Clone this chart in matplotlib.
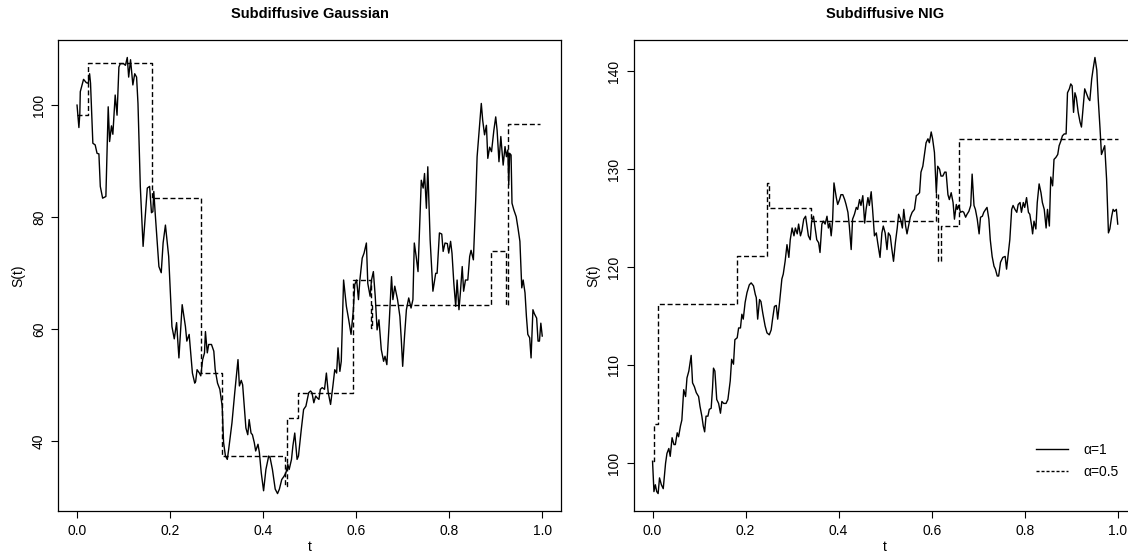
import matplotlib
matplotlib.use("Agg")
import matplotlib.pyplot as plt
from matplotlib.lines import Line2D

plt.rcParams['font.family'] = ['Liberation Sans', 'DejaVu Sans']

# Subdiffusive Gaussian, alpha = 1 (solid)
gauss_t = [0.000, 0.004, 0.006, 0.007, 0.014, 0.020, 0.024, 0.027, 0.029, 0.034,
           0.039, 0.043, 0.047, 0.050, 0.055, 0.062, 0.067, 0.070, 0.074, 0.077,
           0.082, 0.086, 0.090, 0.093, 0.100, 0.104, 0.108, 0.111, 0.115, 0.120,
           0.124, 0.128, 0.131, 0.136, 0.142, 0.147, 0.151, 0.156, 0.160, 0.163,
           0.165, 0.168, 0.176, 0.181, 0.185, 0.190, 0.197, 0.204, 0.209, 0.214,
           0.219, 0.226, 0.233, 0.236, 0.241, 0.248, 0.253, 0.255, 0.258, 0.263,
           0.266, 0.270, 0.274, 0.276, 0.280, 0.283, 0.289, 0.294, 0.297, 0.302,
           0.307, 0.312, 0.315, 0.319, 0.323, 0.326, 0.333, 0.339, 0.346, 0.349,
           0.353, 0.356, 0.360, 0.363, 0.367, 0.370, 0.374, 0.377, 0.381, 0.384,
           0.389, 0.392, 0.396, 0.401, 0.406, 0.412, 0.415, 0.420, 0.426, 0.431,
           0.435, 0.440, 0.445, 0.449, 0.453, 0.456, 0.461, 0.464, 0.468, 0.473,
           0.476, 0.482, 0.487, 0.492, 0.498, 0.502, 0.505, 0.509, 0.513, 0.516,
           0.520, 0.523, 0.527, 0.532, 0.536, 0.540, 0.545, 0.550, 0.554, 0.558,
           0.561, 0.565, 0.568, 0.573, 0.579, 0.584, 0.589, 0.594, 0.597, 0.601,
           0.605, 0.608, 0.613, 0.617, 0.622, 0.625, 0.630, 0.633, 0.637, 0.641,
           0.645, 0.649, 0.654, 0.659, 0.662, 0.666, 0.671, 0.676, 0.679, 0.683,
           0.689, 0.694, 0.697, 0.700, 0.704, 0.708, 0.713, 0.718, 0.722, 0.725,
           0.729, 0.733, 0.740, 0.744, 0.747, 0.751, 0.754, 0.759, 0.765, 0.771,
           0.774, 0.779, 0.784, 0.787, 0.791, 0.796, 0.799, 0.803, 0.806, 0.810,
           0.814, 0.817, 0.821, 0.824, 0.828, 0.831, 0.835, 0.840, 0.844, 0.847,
           0.852, 0.857, 0.860, 0.864, 0.869, 0.872, 0.876, 0.880, 0.883, 0.887,
           0.891, 0.896, 0.900, 0.903, 0.907, 0.911, 0.914, 0.916, 0.920, 0.923,
           0.926, 0.928, 0.930, 0.933, 0.935, 0.939, 0.944, 0.948, 0.952, 0.956,
           0.959, 0.963, 0.966, 0.969, 0.973, 0.976, 0.980, 0.983, 0.988, 0.991,
           0.994, 0.997, 1.000]
gauss_s = [100.0, 96.0, 98.5, 102.4, 104.6, 104.0, 103.9, 105.6, 103.9, 93.2,
           92.9, 91.4, 91.3, 85.5, 83.4, 83.7, 99.7, 93.5, 96.3, 94.8,
           101.8, 98.2, 106.8, 107.4, 107.4, 107.1, 108.5, 105.0, 108.1, 103.6,
           105.6, 105.0, 100.3, 85.5, 74.8, 80.7, 85.2, 85.5, 80.8, 81.0,
           84.6, 80.7, 71.2, 70.1, 75.4, 78.6, 73.0, 60.5, 58.3, 61.2,
           54.9, 64.4, 60.5, 57.9, 59.1, 52.2, 50.4, 50.7, 52.8, 52.2,
           51.7, 54.6, 55.8, 59.6, 55.8, 57.3, 57.3, 56.1, 52.8, 50.4,
           49.3, 46.3, 39.8, 37.4, 36.8, 38.6, 43.3, 48.7, 54.6, 49.9,
           50.9, 50.1, 45.7, 42.4, 41.2, 43.9, 41.5, 41.2, 39.8, 38.3,
           39.5, 38.0, 34.4, 31.2, 35.0, 37.4, 37.1, 35.0, 31.5, 30.7,
           31.5, 33.2, 33.8, 34.4, 35.9, 35.0, 36.8, 39.2, 41.5, 36.8,
           37.4, 42.1, 45.7, 46.3, 48.7, 49.0, 48.7, 46.9, 48.1, 47.8,
           47.5, 49.3, 49.6, 49.3, 52.2, 48.7, 46.6, 49.9, 52.8, 52.2,
           56.7, 52.5, 54.3, 68.8, 64.1, 61.7, 59.1, 63.5, 68.0, 68.8,
           65.3, 68.8, 72.7, 73.6, 75.4, 68.2, 65.9, 68.8, 70.3, 65.9,
           59.9, 61.7, 56.4, 54.3, 55.2, 53.7, 61.1, 69.4, 65.3, 67.7,
           65.3, 62.3, 58.2, 53.4, 58.8, 63.5, 65.6, 63.8, 65.3, 75.4,
           73.0, 70.3, 86.6, 85.2, 87.8, 81.6, 89.0, 76.0, 66.8, 70.0,
           70.0, 77.2, 77.0, 73.9, 75.4, 75.3, 73.6, 75.7, 73.6, 68.2,
           64.1, 68.8, 63.5, 66.5, 71.2, 66.8, 68.8, 68.8, 73.0, 74.1,
           72.4, 83.1, 90.8, 95.0, 100.3, 97.3, 94.7, 96.4, 90.5, 92.5,
           91.7, 95.5, 97.9, 95.5, 89.9, 94.4, 91.4, 89.3, 92.6, 90.8,
           92.0, 85.8, 91.4, 91.1, 82.5, 81.3, 80.1, 78.0, 75.7, 67.4,
           68.8, 66.5, 62.3, 59.1, 58.5, 54.9, 63.5, 62.8, 62.0, 57.9,
           57.9, 61.1, 58.8]

# Subdiffusive Gaussian, alpha = 0.5 (step path)
gauss_half_t = [0.000, 0.024, 0.162, 0.266, 0.312, 0.447, 0.452, 0.474, 0.594,
                0.632, 0.635, 0.889, 0.922, 0.926, 0.996]
gauss_half_s = [98.2, 107.5, 83.4, 52.2, 37.4, 32.0, 44.2, 48.7, 68.8,
                60.2, 64.3, 73.9, 64.3, 96.6, 96.6]

# Subdiffusive NIG, alpha = 1 (solid)
nig_t = [0.000, 0.003, 0.006, 0.009, 0.012, 0.015, 0.019, 0.023, 0.028, 0.031,
         0.035, 0.038, 0.042, 0.046, 0.049, 0.053, 0.056, 0.060, 0.063, 0.067,
         0.071, 0.074, 0.078, 0.083, 0.086, 0.090, 0.094, 0.099, 0.102, 0.106,
         0.109, 0.112, 0.115, 0.119, 0.122, 0.126, 0.129, 0.131, 0.134, 0.138,
         0.142, 0.146, 0.149, 0.153, 0.158, 0.162, 0.167, 0.170, 0.174, 0.177,
         0.182, 0.185, 0.189, 0.192, 0.195, 0.199, 0.203, 0.208, 0.212, 0.217,
         0.221, 0.223, 0.226, 0.230, 0.233, 0.237, 0.242, 0.246, 0.251, 0.255,
         0.258, 0.262, 0.266, 0.269, 0.273, 0.278, 0.281, 0.285, 0.289, 0.293,
         0.296, 0.300, 0.304, 0.307, 0.311, 0.314, 0.318, 0.321, 0.325, 0.329,
         0.332, 0.335, 0.339, 0.342, 0.346, 0.349, 0.353, 0.357, 0.360, 0.364,
         0.367, 0.371, 0.375, 0.378, 0.381, 0.384, 0.387, 0.390, 0.395, 0.398,
         0.402, 0.405, 0.409, 0.413, 0.416, 0.420, 0.423, 0.427, 0.430, 0.434,
         0.438, 0.441, 0.445, 0.448, 0.452, 0.456, 0.459, 0.463, 0.466, 0.470,
         0.473, 0.477, 0.481, 0.484, 0.489, 0.493, 0.496, 0.500, 0.504, 0.507,
         0.511, 0.514, 0.518, 0.522, 0.526, 0.529, 0.533, 0.537, 0.540, 0.544,
         0.547, 0.551, 0.554, 0.558, 0.563, 0.567, 0.570, 0.574, 0.577, 0.581,
         0.585, 0.588, 0.592, 0.595, 0.599, 0.602, 0.606, 0.610, 0.613, 0.617,
         0.620, 0.624, 0.628, 0.631, 0.635, 0.638, 0.642, 0.646, 0.649, 0.653,
         0.655, 0.658, 0.662, 0.666, 0.669, 0.673, 0.676, 0.680, 0.684, 0.687,
         0.691, 0.694, 0.698, 0.702, 0.705, 0.709, 0.712, 0.716, 0.719, 0.723,
         0.726, 0.730, 0.734, 0.737, 0.741, 0.744, 0.748, 0.753, 0.758, 0.761,
         0.765, 0.768, 0.772, 0.775, 0.779, 0.783, 0.786, 0.790, 0.793, 0.797,
         0.800, 0.804, 0.808, 0.811, 0.815, 0.817, 0.820, 0.824, 0.827, 0.831,
         0.835, 0.838, 0.842, 0.846, 0.849, 0.853, 0.856, 0.860, 0.863, 0.867,
         0.871, 0.874, 0.878, 0.881, 0.885, 0.889, 0.892, 0.896, 0.899, 0.902,
         0.905, 0.908, 0.911, 0.915, 0.919, 0.922, 0.926, 0.929, 0.933, 0.937,
         0.940, 0.944, 0.947, 0.951, 0.955, 0.958, 0.962, 0.965, 0.969, 0.972,
         0.976, 0.980, 0.983, 0.987, 0.990, 0.993, 0.997, 1.000]
nig_s = [100.2, 97.1, 97.8, 97.1, 96.9, 98.5, 97.8, 97.4, 100.0, 101.0,
         101.5, 100.7, 102.6, 101.9, 101.9, 103.1, 102.7, 103.8, 104.4, 107.5,
         106.8, 108.7, 109.4, 111.0, 108.2, 107.8, 107.2, 106.8, 105.8, 104.8,
         103.8, 103.2, 104.8, 104.8, 105.5, 105.6, 107.7, 109.7, 109.4, 106.5,
         106.1, 105.1, 106.3, 106.1, 106.1, 106.5, 108.4, 110.6, 110.1, 112.6,
         112.8, 113.8, 113.8, 115.2, 114.7, 116.4, 117.4, 118.2, 118.4, 118.1,
         117.2, 116.9, 114.7, 116.7, 116.5, 115.3, 114.0, 113.3, 113.1, 113.6,
         114.7, 116.0, 116.1, 114.7, 116.4, 118.8, 119.3, 120.6, 122.3, 121.0,
         122.8, 124.0, 123.2, 124.0, 123.4, 124.4, 123.2, 123.7, 124.9, 125.2,
         124.2, 123.2, 122.8, 124.7, 125.2, 124.2, 122.8, 122.5, 121.5, 124.4,
         124.7, 124.4, 125.2, 124.0, 124.5, 123.2, 124.7, 128.6, 127.1, 126.4,
         126.9, 127.4, 127.4, 126.9, 126.4, 125.6, 124.2, 121.8, 124.9, 125.4,
         126.1, 125.9, 126.9, 126.3, 127.3, 124.5, 125.9, 127.1, 126.3, 127.7,
         125.9, 123.2, 123.5, 122.5, 121.0, 123.5, 124.2, 123.5, 121.8, 123.5,
         123.2, 122.0, 120.6, 122.5, 124.0, 125.4, 124.9, 124.0, 125.9, 124.2,
         123.4, 124.4, 125.1, 125.6, 125.9, 127.3, 127.4, 127.6, 129.7, 130.3,
         131.7, 132.7, 133.1, 132.7, 133.8, 133.1, 131.7, 127.6, 130.3, 130.0,
         129.3, 129.3, 129.7, 129.7, 127.4, 126.9, 127.6, 126.6, 124.9, 126.4,
         125.9, 126.3, 125.6, 125.7, 125.6, 125.1, 125.4, 125.7, 126.3, 129.5,
         126.3, 125.9, 124.9, 123.4, 125.1, 125.2, 125.6, 125.9, 126.1, 124.9,
         122.8, 121.1, 120.1, 119.8, 119.1, 119.1, 120.5, 121.0, 121.1, 119.8,
         121.5, 122.8, 125.9, 126.3, 125.9, 125.6, 126.4, 126.6, 125.6, 126.6,
         126.1, 127.1, 125.6, 125.4, 124.2, 123.4, 124.7, 123.9, 126.6, 128.5,
         127.6, 126.6, 125.9, 124.0, 125.9, 124.2, 129.2, 128.3, 131.0, 131.2,
         131.5, 132.4, 132.9, 133.4, 133.6, 133.6, 137.8, 138.2, 138.7, 138.5,
         135.8, 137.8, 137.3, 135.8, 134.8, 134.3, 136.5, 138.2, 137.7, 137.2,
         137.0, 139.2, 140.2, 141.4, 140.1, 137.2, 134.1, 131.5, 132.0, 132.4,
         129.0, 123.5, 123.9, 125.2, 125.9, 125.7, 125.9, 124.4]

# Subdiffusive NIG, alpha = 0.5 (step path)
nig_half_t = [0.000, 0.004, 0.012, 0.182, 0.247, 0.251, 0.340, 0.609, 0.614, 0.621,
              0.658, 1.000]
nig_half_s = [100.2, 104.0, 116.2, 121.1, 128.6, 126.0, 124.7, 127.6, 120.6, 124.2,
              133.1, 133.1]

xticks = [0.0, 0.2, 0.4, 0.6, 0.8, 1.0]
xticklabels = ['0.0', '0.2', '0.4', '0.6', '0.8', '1.0']
gauss_yticks = [40, 60, 80, 100]
nig_yticks = [100, 110, 120, 130, 140]

fig = plt.figure(figsize=(11.28, 5.56), dpi=100)
ax1 = fig.add_axes([0.0518, 0.0809, 0.4454, 0.8471])
ax2 = fig.add_axes([0.5620, 0.0809, 0.4454, 0.8471])

dash_main = (0, (3.6, 2.0))

panels = [
    (ax1, gauss_t, gauss_s, gauss_half_t, gauss_half_s, gauss_yticks, 'Subdiffusive Gaussian'),
    (ax2, nig_t, nig_s, nig_half_t, nig_half_s, nig_yticks, 'Subdiffusive NIG'),
]

for ax, t, s, th, sh, yt, title in panels:
    ax.plot(t, s, color='black', lw=1.0)
    ax.plot(th, sh, color='black', lw=1.0, linestyle=dash_main, drawstyle='steps-post')
    ax.margins(x=0.04, y=0.04)
    ax.set_xticks(xticks)
    ax.set_xticklabels(xticklabels)
    ax.set_yticks(yt)
    ax.set_yticklabels([str(v) for v in yt], rotation=90, va='center')
    ax.tick_params(direction='out', length=5, width=0.8, labelsize=10, pad=4)
    for sp in ax.spines.values():
        sp.set_linewidth(0.9)
    ax.set_xlabel('t', fontsize=10, labelpad=2)
    ax.set_ylabel('S(t)', fontsize=10, labelpad=5)
    ax.set_title(title, fontsize=10.5, fontweight='bold', pad=16)

handles = [Line2D([], [], color='black', lw=1.0),
           Line2D([], [], color='black', lw=1.0, linestyle=(0, (2.2, 1.4)))]
ax2.legend(handles, ['α=1', 'α=0.5'], loc='upper left', bbox_to_anchor=(0.80, 0.145),
           frameon=False, fontsize=10, handlelength=2.3, handletextpad=1.1,
           labelspacing=0.6, borderpad=0, borderaxespad=0)

fig.savefig('out.png', dpi=100)
